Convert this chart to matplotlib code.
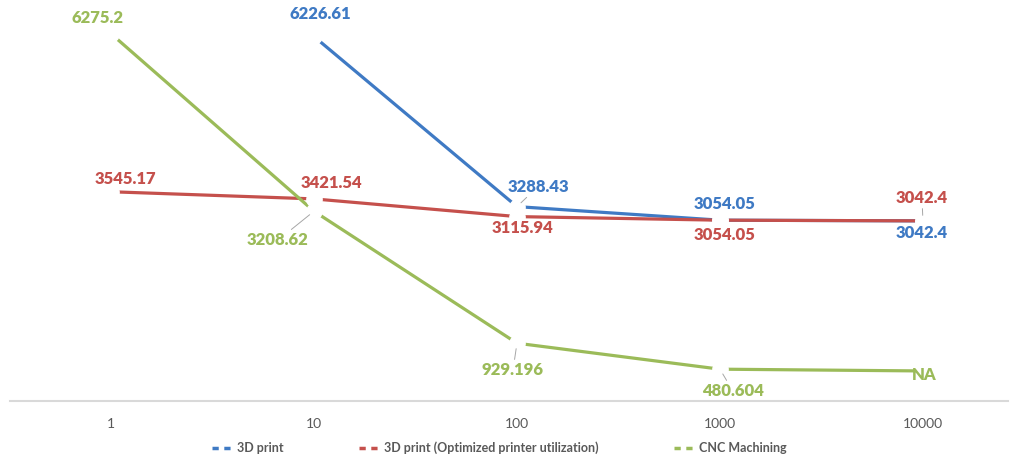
import matplotlib
matplotlib.use("Agg")
import matplotlib.pyplot as plt
from matplotlib.lines import Line2D
import numpy as np

# quantities on the category axis
quantities = ['1', '10', '100', '1000', '10000']

# cost per part for each process (nan = no value)
print_3d = [np.nan, 6226.61, 3288.43, 3054.05, 3042.4]
print_3d_opt = [3545.17, 3421.54, 3115.94, 3054.05, 3042.4]
cnc = [6275.2, 3208.62, 929.196, 480.604, 450]
cnc_labels = ['6275.2', '3208.62', '929.196', '480.604', 'NA']

blue = '#3F7AC4'
red = '#C5504C'
green = '#9BBB59'
grey_text = '#595959'
label_font = 'Lato'

fig = plt.figure(figsize=(10.11, 4.58), dpi=100)
ax = fig.add_axes([9.5 / 1011, 1 - 401 / 458, (1008 - 9.5) / 1011, 401 / 458])
x = np.arange(len(quantities))

series = [(print_3d, blue), (print_3d_opt, red), (cnc, green)]

#Lines first, then white dots on top so every point leaves a small gap
for values, color in series:
    ax.plot(x, values, color=color, lw=2.3, solid_capstyle='butt', zorder=2)
for values, color in series:
    ax.plot(x, values, ls='none', marker='o', ms=11, mfc='white', mec='white', zorder=3)

#Data labels, offsets in pixels from the point, optional grey leader line
def put_label(i, values, text, color, dx, dy, leader=False):
    props = None
    if leader:
        props = dict(arrowstyle='-', color='#A6A6A6', lw=0.7, shrinkA=0, shrinkB=4)
    ax.annotate(text, xy=(x[i], values[i]), xytext=(dx, dy), textcoords='offset pixels',
                ha='center', va='center', color=color, fontsize=12, fontweight='heavy',
                family=label_font, arrowprops=props, zorder=4, annotation_clip=False)

put_label(1, print_3d, '6226.61', blue, 6, 22)
put_label(2, print_3d, '3288.43', blue, 21, 20, leader=True)
put_label(3, print_3d, '3054.05', blue, 5, 16)
put_label(4, print_3d, '3042.4', blue, -1, -12)

put_label(0, print_3d_opt, '3545.17', red, 14, 13)
put_label(1, print_3d_opt, '3421.54', red, 17, 16)
put_label(2, print_3d_opt, '3115.94', red, 6, -11)
put_label(3, print_3d_opt, '3054.05', red, 5, -15)
put_label(4, print_3d_opt, '3042.4', red, -1, 23, leader=True)

put_label(0, cnc, cnc_labels[0], green, -13, 16)
put_label(1, cnc, cnc_labels[1], green, -36, -29, leader=True)
put_label(2, cnc, cnc_labels[2], green, -4, -27, leader=True)
put_label(3, cnc, cnc_labels[3], green, 13, -22, leader=True)
put_label(4, cnc, cnc_labels[4], green, 1, -4)

#Axis setup
ax.set_xlim(-0.5, 4.419)
ax.set_ylim(-69, 6857)
ax.set_xticks(x)
ax.set_xticklabels(quantities, family=label_font, fontsize=10, color=grey_text)
ax.tick_params(axis='x', length=0, pad=12)
ax.set_yticks([])
for side in ['top', 'left', 'right']:
    ax.spines[side].set_visible(False)
ax.spines['bottom'].set_color('#D9D9D9')
ax.spines['bottom'].set_linewidth(1.5)
ax.patch.set_alpha(0)

#Legend under the axis
handles = [Line2D([], [], color=c, lw=2.5, dashes=(1.8, 1.6)) for c in [blue, red, green]]
names = ['3D print', '3D print (Optimized printer utilization)', 'CNC Machining']
fig.legend(handles, names, loc='center', bbox_to_anchor=(0.494, 1 - 448 / 458), ncol=3,
           frameon=False, handlelength=1.7, handletextpad=0.3, columnspacing=6.0,
           prop={'family': label_font, 'size': 9, 'weight': 'bold'},
           labelcolor=grey_text)

fig.savefig('out.png', dpi=100)
